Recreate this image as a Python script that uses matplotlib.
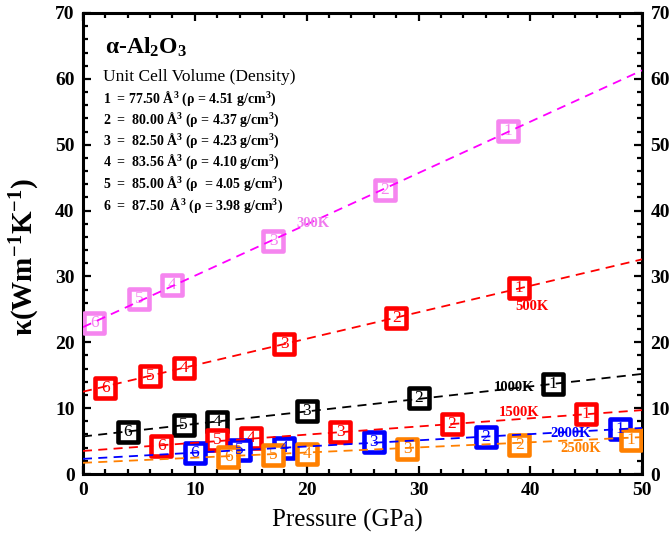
import numpy as np
import matplotlib
matplotlib.use("Agg")
import matplotlib.pyplot as plt
from matplotlib.markers import MarkerStyle

plt.rcParams['font.family'] = ['Liberation Serif', 'DejaVu Serif']
plt.rcParams['mathtext.fontset'] = 'custom'
plt.rcParams['mathtext.rm'] = 'Liberation Serif'
plt.rcParams['mathtext.bf'] = 'Liberation Serif:bold'
plt.rcParams['mathtext.it'] = 'Liberation Serif:italic'
plt.rcParams['mathtext.default'] = 'regular'

# ======================
# Datos
# ======================
temps = ["300K", "500K", "1000K", "1500K", "2000K", "2500K"]
etiquetas = ["6", "5", "4", "3", "2", "1"]

p_300 = [1, 5, 8, 17, 27, 38]
k_300 = [22.9, 26.6, 28.7, 35.4, 43.1, 52.1]
p_500 = [2, 6, 9, 18, 28, 39]
k_500 = [13.1, 14.9, 16.1, 19.7, 23.7, 28.2]
p_1000 = [4, 9, 12, 20, 30, 42]
k_1000 = [6.4, 7.5, 7.9, 9.6, 11.6, 13.7]
p_1500 = [7, 12, 15, 23, 33, 45]
k_1500 = [4.3, 5.1, 5.5, 6.4, 7.6, 9.1]
p_2000 = [10, 14, 18, 26, 36, 48]
k_2000 = [3.2, 3.7, 4.0, 4.8, 5.6, 6.8]
p_2500 = [13, 17, 20, 29, 39, 49]
k_2500 = [2.6, 2.9, 3.0, 3.8, 4.4, 5.2]

# ajuste lineal: valores en P = 0 y P = 50
p_ajuste = [0, 50]
aj_300 = [22.3, 61.3]
aj_500 = [12.5, 32.6]
aj_1000 = [5.7, 15.2]
aj_1500 = [3.5, 9.7]
aj_2000 = [2.3, 7.0]
aj_2500 = [1.7, 5.6]

leyenda = [
    r"1  = 77.50 Å$^3$ (ρ = 4.51 g/cm$^3$)",
    r"2  =  80.00 Å$^3$ (ρ = 4.37 g/cm$^3$)",
    r"3  =  82.50 Å$^3$ (ρ = 4.23 g/cm$^3$)",
    r"4  =  83.56 Å$^3$ (ρ = 4.10 g/cm$^3$)",
    r"5  =  85.00 Å$^3$ (ρ  = 4.05 g/cm$^3$)",
    r"6  =  87.50  Å$^3$ (ρ = 3.98 g/cm$^3$)",
]

series = [
    (p_300, k_300, aj_300, "#F585EF", "#FF00FF", "#F07AEE", (20.6, 38.1)),
    (p_500, k_500, aj_500, "#FF0000", "#FF0000", "#FF0000", (40.1, 25.5)),
    (p_1000, k_1000, aj_1000, "#000000", "#000000", "#000000", (38.5, 13.2)),
    (p_1500, k_1500, aj_1500, "#FF0000", "#FF0000", "#FF0000", (39.0, 9.3)),
    (p_2000, k_2000, aj_2000, "#0000FF", "#0000FF", "#0000FF", (43.6, 6.2)),
    (p_2500, k_2500, aj_2500, "#FF8000", "#FF8000", "#FF8000", (44.5, 3.8)),
]

# ======================
# Gráfico
# ======================
fig = plt.figure(figsize=(6.69, 5.37), dpi=100)
ax = fig.add_axes([0.124, 0.1173, 0.836, 0.8585])

cuadro = MarkerStyle("s", joinstyle="round")
for (p, k, aj, cm, cl, ct, pos), nombre in zip(series, temps):
    ax.plot(p, k, linestyle="none", marker=cuadro, markersize=14,
            markeredgewidth=3.3, markeredgecolor=cm, markerfacecolor="white",
            zorder=3)
    for xi, yi, lab in zip(p, k, etiquetas):
        ax.text(xi, yi, lab, color=cm, fontsize=12.5, ha="center",
                va="center", zorder=4)
    ax.plot(p_ajuste, aj, linestyle=(0, (5, 3.5)), color=cl, linewidth=1.3,
            zorder=5)
    ax.text(pos[0], pos[1], nombre, color=ct, fontsize=10.5,
            fontweight="bold", ha="center", va="center", zorder=6)

ax.set_xlim(0, 50)
ax.set_ylim(0, 70)
ax.set_xticks(np.arange(0, 51, 10))
ax.set_xticks(np.arange(0, 51, 2), minor=True)
ax.set_yticks(np.arange(0, 71, 10))
ax.set_yticks(np.arange(0, 71, 2), minor=True)
ax.tick_params(which="both", direction="in", top=True, right=True,
               labelright=True, width=1.6)
ax.tick_params(which="major", length=6, labelsize=14)
ax.tick_params(axis="x", which="major", pad=6)
ax.tick_params(axis="y", which="major", pad=6)
ax.tick_params(which="minor", length=3.5)
for t in ax.xaxis.get_major_ticks():
    t.label1.set_fontweight("bold")
for t in ax.yaxis.get_major_ticks():
    t.label1.set_fontweight("bold")
    t.label2.set_fontweight("bold")
for s in ax.spines.values():
    s.set_linewidth(2.2)

ax.set_xlabel("Pressure (GPa)", fontsize=18)
ax.xaxis.set_label_coords(0.472, -0.076)
ax.set_ylabel(r"κ(Wm$^{-1}$K$^{-1}$)", fontsize=21, fontweight="bold")
ax.yaxis.set_label_coords(-0.074, 0.47)

ax.text(0.039, 0.926, r"α-Al$_2$O$_3$", transform=ax.transAxes,
        fontsize=17, fontweight="bold", va="center", ha="left")
ax.text(0.036, 0.861, "Unit Cell Volume (Density)", transform=ax.transAxes,
        fontsize=12.5, va="center", ha="left")
filas_y = [0.813, 0.768, 0.722, 0.677, 0.629, 0.581]
for fy, linea in zip(filas_y, leyenda):
    ax.text(0.036, fy, linea, transform=ax.transAxes, fontsize=10,
            fontweight="bold", va="center", ha="left")

fig.savefig("out.png", dpi=100)
